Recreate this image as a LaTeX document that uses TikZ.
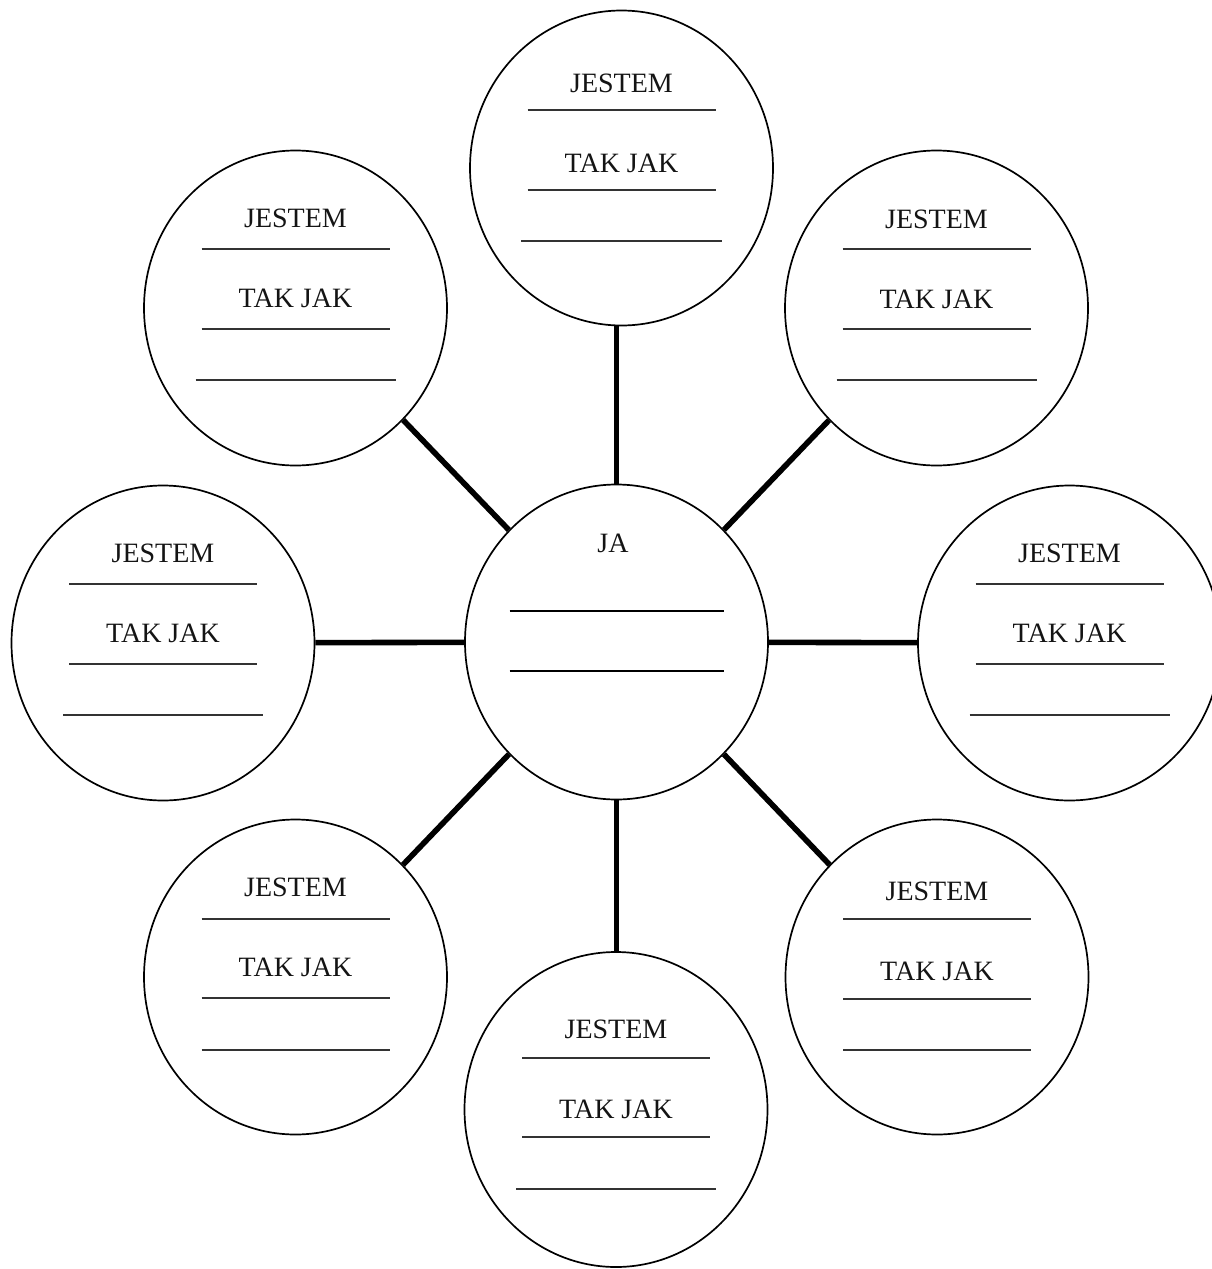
\documentclass[tikz,border=0pt]{standalone}
\usepackage{fontspec}
\setmainfont{Liberation Serif}
\usetikzlibrary{shapes.geometric,calc}
\newcommand\bubtxt[4]{% #1 node, #2 text shift, #3 line shift, #4 width of third line
  \node[lbl] (#1-a) at ($(#1)+(0,-81+#2)$) {JESTEM};
  \draw[uline] ($(#1)+(-94,-59+#3)$) -- ++(188,0);
  \node[lbl] (#1-b) at ($(#1)+(0,-1+#2)$) {TAK JAK};
  \draw[uline] ($(#1)+(-94,20.5+#3)$) -- ++(188,0);
  \draw[uline] ($(#1)+(-#4/2,72+#3)$) -- ++(#4,0);
}
\begin{document}
\begin{tikzpicture}[x=0.5pt,y=-0.5pt,
  bubble/.style={draw, line width=0.85pt, ellipse, minimum width=151.5pt, minimum height=157.5pt, inner sep=0pt},
  conn/.style={line width=2.8pt},
  uline/.style={line width=1pt, black!80},
  cline/.style={line width=1.1pt},
  lbl/.style={font=\fontsize{14}{16}\selectfont, text=black!92, anchor=base, inner sep=0pt}]
\useasboundingbox (0,0) rectangle (1211,1269);
% bubbles
\node[bubble] (C)  at (616.5,642) {};
\node[bubble] (N)  at (621.5,168) {};
\node[bubble] (NW) at (295.5,308) {};
\node[bubble] (NE) at (936.5,308) {};
\node[bubble] (W)  at (163,643) {};
\node[bubble] (E)  at (1069.5,643) {};
\node[bubble] (SW) at (295.5,977) {};
\node[bubble] (SE) at (937,977) {};
\node[bubble] (S)  at (616,1109.5) {};
% connectors
\draw[conn] (C.north) -- (C.north |- N.south);
\draw[conn] (C.south) -- (C.south |- S.north);
\draw[conn] (C) -- (W);
\draw[conn] (C) -- (E);
\draw[conn] (C) -- (NW);
\draw[conn] (C) -- (NE);
\draw[conn] (C) -- (SW);
\draw[conn] (C) -- (SE);
% centre content
\node[lbl] (ja) at (613,552) {JA};
\draw[cline] ($(C)+(-107,-31)$) -- ++(214,0);
\draw[cline] ($(C)+(-107,29)$) -- ++(214,0);
% outer content
\bubtxt{N}{5}{1}{201}
\bubtxt{NW}{0}{0}{200}
\bubtxt{NE}{1}{0}{200}
\bubtxt{W}{0}{0}{200}
\bubtxt{E}{0}{0}{200}
\bubtxt{SW}{0}{0.5}{188}
\bubtxt{SE}{4.5}{1}{188}
\bubtxt{S}{9.5}{7}{200}
\end{tikzpicture}
\end{document}
